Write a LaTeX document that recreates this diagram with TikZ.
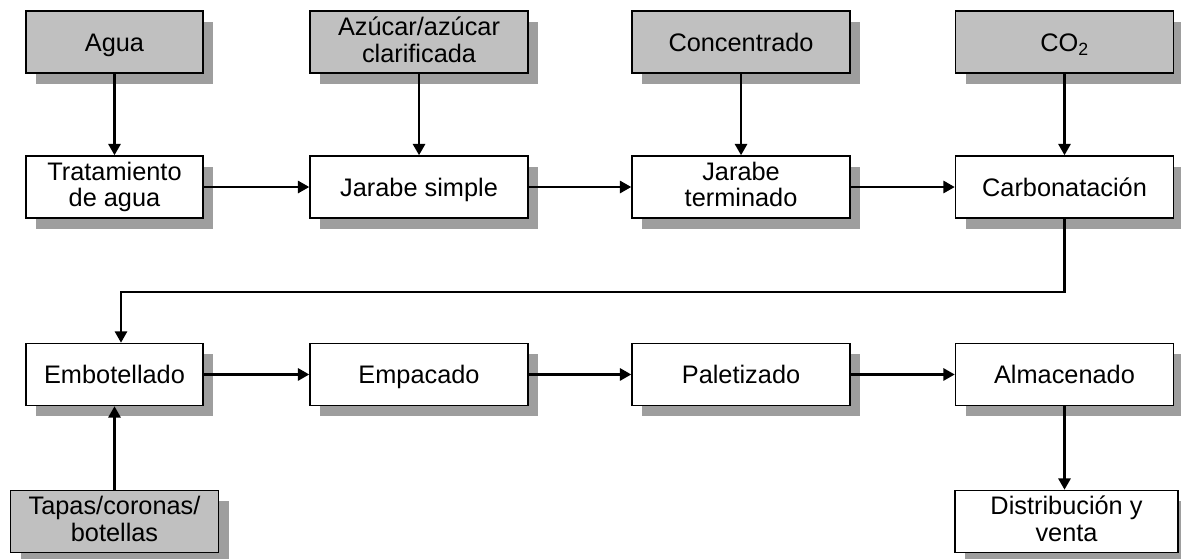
\documentclass[tikz,border=0pt]{standalone}
\usepackage{fontspec}
\setmainfont{Liberation Sans}
\usepackage{xcolor}
\usetikzlibrary{positioning, shadows, arrows.meta}

\definecolor{inputgray}{HTML}{C0C0C0}
\definecolor{shadowgray}{HTML}{9E9E9E}

\tikzset{
  proc/.style={draw, line width=1.1pt, fill=white, minimum height=46.5pt,
    inner sep=0pt, align=center, font=\fontsize{19}{20}\selectfont,
    execute at begin node=\rule{0pt}{18pt}, execute at end node=\vphantom{g},
    drop shadow={shadow xshift=7.5pt, shadow yshift=-8pt, fill=shadowgray, opacity=1}},
  input/.style={proc, fill=inputgray},
  one/.style={text height=13.7pt, text depth=0pt},
  narrow/.style={minimum width=132.75pt},
  wide/.style={minimum width=163.5pt},
  flow/.style={-{Triangle[length=8.5pt, width=9pt]}, line width=2pt},
}

\begin{document}
\begin{tikzpicture}[x=0.75pt, y=-0.75pt, on grid]
        \useasboundingbox (0,0) rectangle (1181,558);

        % inputs
        \node[input, narrow, one] (agua) at (114.5,42) {Agua};
        \node[input, wide] (azucar) [right=228.4pt of agua] {Azúcar/azúcar\\clarificada};
        \node[input, wide, one] (conc) [right=241.5pt of azucar] {Concentrado};
        \node[input, wide, one] (co2) [right=242.6pt of conc] {CO\textsubscript{2}};

        % syrup line
        \node[proc, narrow] (trat) [below=108.75pt of agua] {Tratamiento\\de agua};
        \node[proc, wide, one] (jsimple) [below=108.75pt of azucar] {Jarabe simple};
        \node[proc, wide] (jterm) [below=108.75pt of conc] {Jarabe\\terminado};
        \node[proc, wide, one] (carb) [below=108.75pt of co2] {Carbonatación};

        % bottling line
        \node[proc, narrow, one] (embot) [below=140.6pt of trat] {Embotellado};
        \node[proc, wide, one] (empac) [below=140.6pt of jsimple] {Empacado};
        \node[proc, wide, one] (palet) [below=140.6pt of jterm] {Paletizado};
        \node[proc, wide, one] (almac) [below=140.6pt of carb] {Almacenado};

        \node[input, minimum width=156pt] (tapas) [below=110.25pt of embot] {Tapas/coronas/\\botellas};
        \node[proc, minimum width=167pt, xshift=1.5pt] (distr) [below=110.25pt of almac] {Distribución y\\venta};

        \coordinate (turn) at (121,292);

        \draw[flow] (agua) -- (trat);
        \draw[flow] (azucar) -- (jsimple);
        \draw[flow] (conc) -- (jterm);
        \draw[flow] (co2) -- (carb);
        \draw[flow] (trat) -- (jsimple);
        \draw[flow] (jsimple) -- (jterm);
        \draw[flow] (jterm) -- (carb);
        \draw[flow] (carb.south) |- (turn) -- (turn |- embot.north);
        \draw[flow] (embot) -- (empac);
        \draw[flow] (empac) -- (palet);
        \draw[flow] (palet) -- (almac);
        \draw[flow] (tapas.north) -- (tapas.north |- embot.south);
        \draw[flow] (almac.south) -- (almac.south |- distr.north);
\end{tikzpicture}
\end{document}
